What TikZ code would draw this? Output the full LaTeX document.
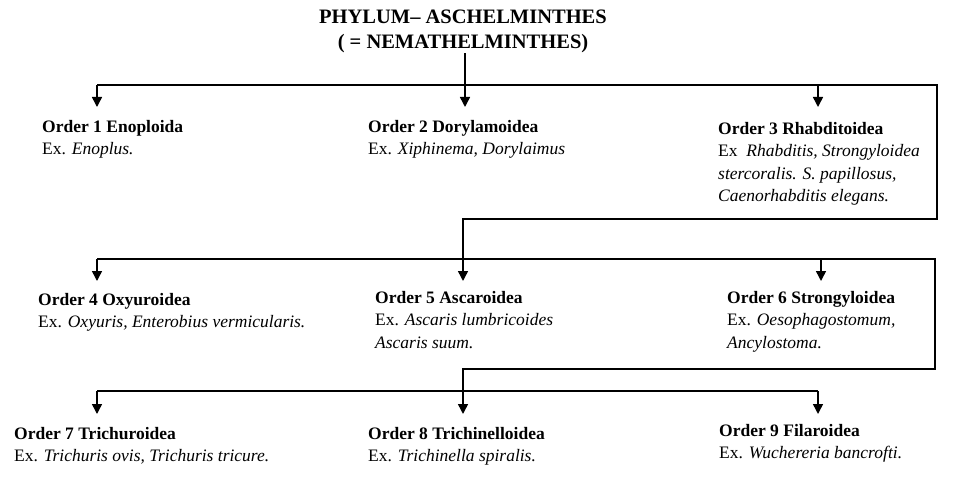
\documentclass[tikz,border=0pt]{standalone}
\usepackage{fontspec}
\setmainfont{Liberation Serif}
\usetikzlibrary{arrows.meta}
\begin{document}
\begin{tikzpicture}[x=1pt,y=-1pt,
  conn/.style={line width=1.5pt},
  arr/.style={conn,-{Triangle[width=10pt,length=10pt]}},
  order/.style={anchor=north west,inner sep=0pt,align=left,font=\fontsize{17.5}{22.5}\selectfont},
  ttl/.style={inner sep=0pt,align=center,font=\bfseries\fontsize{20.5}{25}\selectfont}]
\useasboundingbox (0,0) rectangle (958,481);
\node[ttl,anchor=north] (t) at (463,10) {PHYLUM– ASCHELMINTHES\\( = NEMATHELMINTHES)};
\node[order] (o1) at (42,120) {\textbf{Order 1 Enoploida}\\Ex. \textit{Enoplus.}};
\node[order] (o2) at (368,120) {\textbf{Order 2 Dorylamoidea}\\Ex. \textit{Xiphinema, Dorylaimus}};
\node[order] (o3) at (718,122) {\textbf{Order 3 Rhabditoidea}\\Ex\ \ \textit{Rhabditis, Strongyloidea}\\\textit{stercoralis. S. papillosus,}\\\textit{Caenorhabditis elegans.}};
\node[order] (o4) at (38,293) {\textbf{Order 4 Oxyuroidea}\\Ex. \textit{Oxyuris, Enterobius vermicularis.}};
\node[order] (o5) at (375,291) {\textbf{Order 5 Ascaroidea}\\Ex. \textit{Ascaris lumbricoides}\\\textit{Ascaris suum.}};
\node[order] (o6) at (727,291) {\textbf{Order 6 Strongyloidea}\\Ex. \textit{Oesophagostomum,}\\\textit{Ancylostoma.}};
\node[order] (o7) at (14,427) {\textbf{Order 7 Trichuroidea}\\Ex. \textit{Trichuris ovis, Trichuris tricure.}};
\node[order] (o8) at (368,427) {\textbf{Order 8 Trichinelloidea}\\Ex. \textit{Trichinella spiralis.}};
\node[order] (o9) at (719,424) {\textbf{Order 9 Filaroidea}\\Ex. \textit{Wuchereria bancrofti.}};
% row 1
\coordinate (b1) at (465,85);
\coordinate (a1) at (97,107); \coordinate (a2) at (465,107); \coordinate (a3) at (818,107);
\draw[conn] (t.south) ++(2,0) -- (b1);
\draw[conn] (a1 |- b1) -- (937,85) -- (937,219) -- (463,219) -- (463,259);
\draw[arr] (a1 |- b1) -- (a1);
\draw[arr] (b1) -- (a2);
\draw[arr] (a3 |- b1) -- (a3);
% row 2
\coordinate (b2) at (463,259);
\coordinate (c1) at (97,281); \coordinate (c2) at (463,281); \coordinate (c3) at (821,281);
\draw[conn] (c1 |- b2) -- (935,259) -- (935,369) -- (463,369) -- (463,391);
\draw[arr] (c1 |- b2) -- (c1);
\draw[arr] (b2) -- (c2);
\draw[arr] (c3 |- b2) -- (c3);
% row 3
\coordinate (b3) at (463,391);
\coordinate (d1) at (97,414); \coordinate (d2) at (463,414); \coordinate (d3) at (818,414);
\draw[conn] (d1 |- b3) -- (d3 |- b3);
\draw[arr] (d1 |- b3) -- (d1);
\draw[arr] (b3) -- (d2);
\draw[arr] (d3 |- b3) -- (d3);
\end{tikzpicture}
\end{document}
